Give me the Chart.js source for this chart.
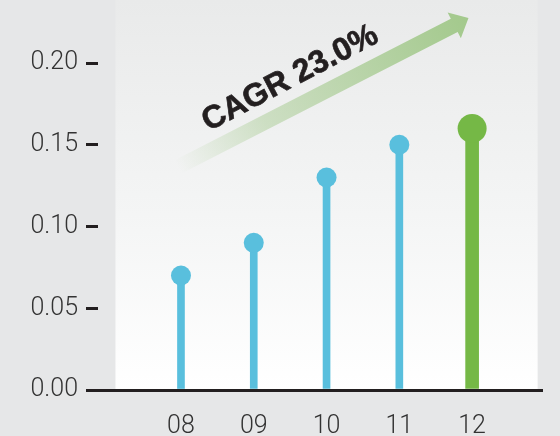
<!DOCTYPE html>
<html>
<head>
<meta charset="utf-8">
<script src="https://cdn.jsdelivr.net/npm/chart.js@4"></script>
<style>
  html, body { margin: 0; padding: 0; background: #e6e7e8; }
  #wrap { width: 560px; height: 436px; }
</style>
</head>
<body>
<div id="wrap"><canvas id="chart" width="560" height="436"></canvas></div>
<script>
// Yearly values (year suffixes on the x axis)
const categories = ['08', '09', '10', '11', '12'];
const values = [0.07, 0.09, 0.13, 0.15, 0.16];
const yTicks = [0.00, 0.05, 0.10, 0.15, 0.20];
const highlightIndex = 4;
const cagrLabel = 'CAGR 23.0%';

const BLUE = '#59bfdd';
const GREEN = '#75b846';
const INK = '#231f20';
const TICK_FONT = 'Roboto, "Liberation Sans", Arial, sans-serif';
const BOLD_FONT = '"Liberation Sans", Arial, Helvetica, sans-serif';

const points = values.map((v, i) => ({ x: i, y: v }));
const blueStems = points.map((p, i) => (i === highlightIndex ? { x: p.x, y: null } : p));
const greenStems = points.map((p, i) => (i === highlightIndex ? p : { x: p.x, y: null }));

// Page background plus the soft vertical-gradient panel behind the plot
const panelPlugin = {
  id: 'panel',
  beforeDraw(chart) {
    const { ctx, scales: { x, y } } = chart;
    ctx.save();
    ctx.fillStyle = '#e6e7e8';
    ctx.fillRect(0, 0, chart.width, chart.height);
    const left = x.getPixelForValue(-0.9);
    const right = x.getPixelForValue(4.9);
    const bottom = y.getPixelForValue(0);
    const g = ctx.createLinearGradient(0, 0, 0, bottom);
    g.addColorStop(0, '#e9eaea');
    g.addColorStop(0.55, '#f4f5f5');
    g.addColorStop(1, '#ffffff');
    ctx.fillStyle = g;
    ctx.fillRect(left, 0, right - left, bottom);
    ctx.restore();
  }
};

// Growth arrow from the first year to the last, with the CAGR caption
const cagrPlugin = {
  id: 'cagr',
  beforeDatasetsDraw(chart) {
    const { ctx, scales: { x, y } } = chart;
    const x0 = x.getPixelForValue(-0.04), y0 = y.getPixelForValue(0.1365);
    const x1 = x.getPixelForValue(3.95), y1 = y.getPixelForValue(0.2275);
    const ang = Math.atan2(y1 - y0, x1 - x0);
    const len = Math.hypot(x1 - x0, y1 - y0);
    const shaftHalf = 7.5, headHalf = 14.5, headLen = 16;
    ctx.save();
    ctx.translate(x0, y0);
    ctx.rotate(ang);
    const g = ctx.createLinearGradient(0, 0, len, 0);
    g.addColorStop(0, 'rgba(163,201,140,0)');
    g.addColorStop(0.3, 'rgba(163,201,140,0.45)');
    g.addColorStop(1, 'rgba(163,201,140,1)');
    ctx.fillStyle = g;
    ctx.beginPath();
    ctx.moveTo(0, -shaftHalf);
    ctx.lineTo(len - headLen, -shaftHalf);
    ctx.lineTo(len - headLen, -headHalf);
    ctx.lineTo(len, 0);
    ctx.lineTo(len - headLen, headHalf);
    ctx.lineTo(len - headLen, shaftHalf);
    ctx.lineTo(0, shaftHalf);
    ctx.closePath();
    ctx.fill();
    ctx.restore();

    ctx.save();
    ctx.translate(x.getPixelForValue(1.5), y.getPixelForValue(0.1905));
    ctx.rotate(ang - 0.01);
    ctx.fillStyle = INK;
    ctx.strokeStyle = INK;
    ctx.lineWidth = 0.7;
    ctx.font = 'bold 32px ' + BOLD_FONT;
    ctx.textAlign = 'center';
    ctx.textBaseline = 'middle';
    ctx.fillText(cagrLabel, 0, 0);
    ctx.strokeText(cagrLabel, 0, 0);
    ctx.restore();
  }
};

new Chart(document.getElementById('chart'), {
  type: 'bar',
  data: {
    datasets: [
      {
        type: 'scatter',
        data: points,
        pointRadius: points.map((p, i) => (i === highlightIndex ? 14.5 : 10)),
        pointHoverRadius: points.map((p, i) => (i === highlightIndex ? 14.5 : 10)),
        pointBackgroundColor: points.map((p, i) => (i === highlightIndex ? GREEN : BLUE)),
        pointBorderWidth: 0,
        order: 0
      },
      {
        data: blueStems,
        backgroundColor: BLUE,
        barThickness: 7,
        grouped: false,
        order: 1
      },
      {
        data: greenStems,
        backgroundColor: GREEN,
        barThickness: 13,
        grouped: false,
        order: 1
      }
    ]
  },
  options: {
    responsive: false,
    animation: false,
    events: [],
    layout: { padding: { top: 63, left: 0, right: 18, bottom: 0 } },
    plugins: { legend: { display: false }, tooltip: { enabled: false } },
    scales: {
      x: {
        type: 'linear',
        offset: false,
        min: -1.14,
        max: 4.96,
        afterBuildTicks: (s) => { s.ticks = categories.map((c, i) => ({ value: i })); },
        afterFit: (s) => { s.height = 46; },
        ticks: {
          callback: (v) => categories[v],
          color: '#333333',
          padding: 22,
          font: { family: TICK_FONT, size: 25, weight: 300 },
          maxRotation: 0
        },
        grid: { display: false, drawTicks: false, offset: false },
        border: { display: true, color: INK, width: 3 }
      },
      y: {
        min: 0,
        max: 0.2,
        afterBuildTicks: (s) => { s.ticks = yTicks.map(v => ({ value: v })); },
        afterFit: (s) => { s.width = 98; },
        ticks: {
          callback: (v) => v.toFixed(2),
          color: '#333333',
          padding: 8,
          font: { family: TICK_FONT, size: 25, weight: 300 }
        },
        grid: {
          display: true,
          drawOnChartArea: false,
          drawTicks: true,
          tickLength: 12,
          lineWidth: 3,
          color: INK
        },
        border: { display: false }
      }
    }
  },
  plugins: [panelPlugin, cagrPlugin]
});
</script>
</body>
</html>
